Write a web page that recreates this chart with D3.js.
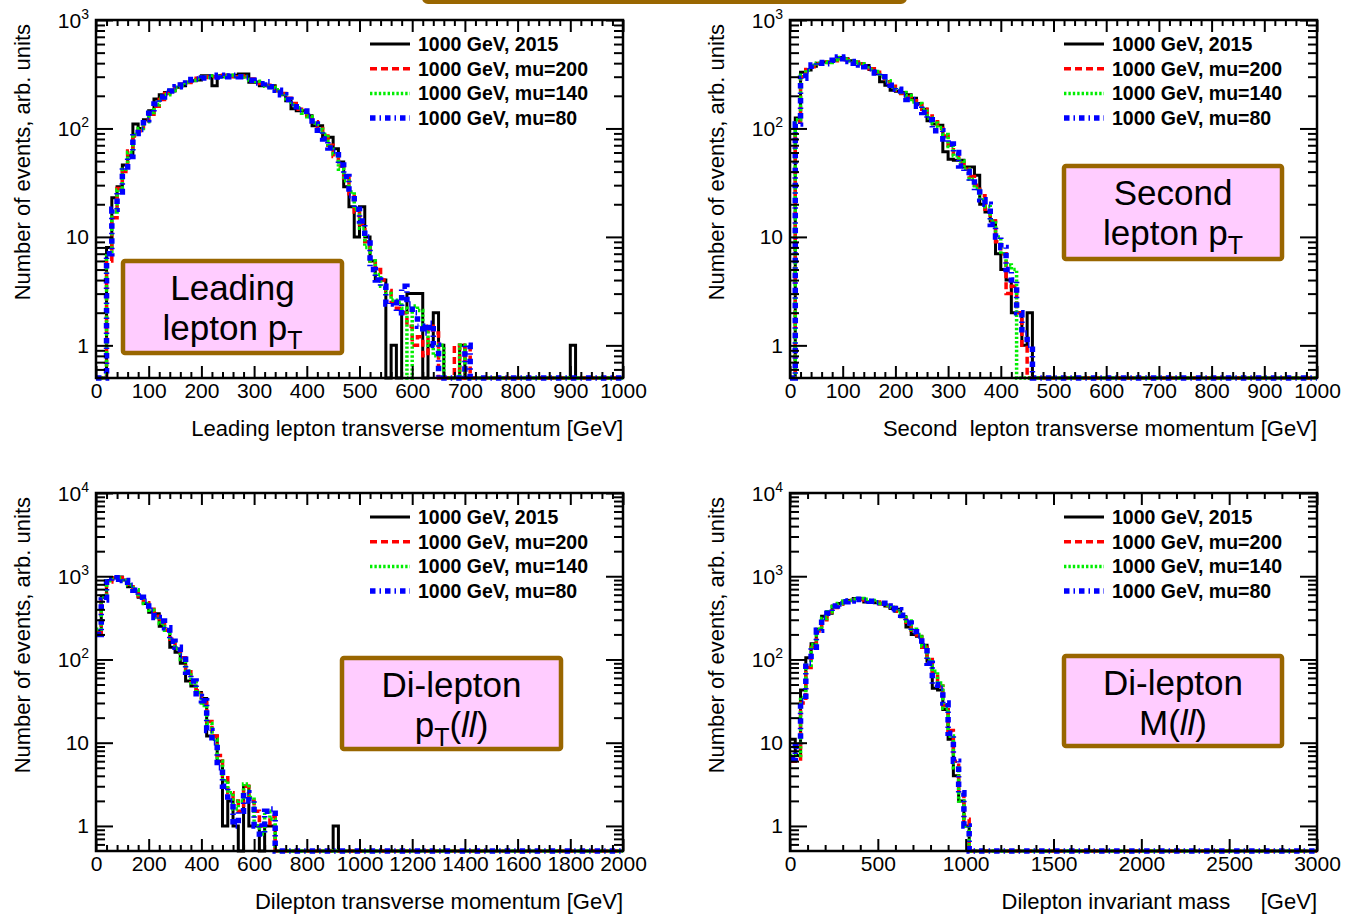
<!DOCTYPE html>
<html>
<head>
<meta charset="utf-8">
<script src="https://cdn.jsdelivr.net/npm/d3@7"></script>
<style>
  html, body { margin: 0; padding: 0; background: #ffffff; }
  svg { display: block; font-family: "Liberation Sans", Arial, Helvetica, sans-serif; }
</style>
</head>
<body>
<svg id="chart" width="1346" height="915"></svg>
<script>
// ---- Bin contents (100 bins per histogram) ----

// Leading lepton pT, 10 GeV bins, 0-1000 GeV
const leadPt2015 = [
  0, 0, 8, 23, 29, 46, 56, 110, 100, 120,
  146, 187, 205, 215, 222, 240, 247, 265, 275, 280,
  306, 306, 247, 306, 300, 306, 310, 318, 318, 266,
  266, 247, 247, 247, 222, 205, 180, 152, 146, 146,
  131, 106, 106, 83, 83, 65, 49, 29, 19, 10,
  19, 10, 6, 4, 4, 0, 1, 0, 2, 3,
  3, 3, 0, 1, 2, 1, 0, 0, 0, 1,
  0, 0, 0, 0, 0, 0, 0, 0, 0, 0,
  0, 0, 0, 0, 0, 0, 0, 0, 0, 0,
  1, 0, 0, 0, 0, 0, 0, 0, 0, 0
];
const leadPtMu200 = [
  0, 0, 6, 15, 28, 40, 62, 85, 95, 118,
  135, 160, 185, 210, 225, 240, 255, 265, 280, 290,
  295, 300, 300, 305, 310, 305, 300, 305, 300, 285,
  270, 260, 250, 240, 225, 210, 190, 170, 150, 140,
  125, 115, 100, 85, 70, 55, 45, 35, 25, 17,
  13, 9, 6, 5, 4, 3.2, 2.5, 2.2, 2, 1.5,
  1, 1.2, 0.8, 1.5, 1.3, 0, 0, 0, 1, 0,
  1, 0, 0, 0, 0, 0, 0, 0, 0, 0,
  0, 0, 0, 0, 0, 0, 0, 0, 0, 0,
  0, 0, 0, 0, 0, 0, 0, 0, 0, 0
];
const leadPtMu140 = [
  0, 0, 7, 17, 27, 42, 60, 88, 100, 115,
  140, 165, 190, 205, 225, 238, 250, 268, 278, 288,
  298, 295, 305, 300, 300, 310, 300, 298, 302, 280,
  272, 262, 245, 238, 228, 208, 188, 165, 155, 138,
  128, 112, 98, 88, 68, 58, 42, 33, 26, 18,
  12, 8, 6, 4.5, 3.5, 3, 2.6, 2.5, 2.2, 0,
  2.3, 2.1, 1.4, 1, 0.8, 1, 0, 0, 0, 1,
  0, 0, 0, 0, 0, 0, 0, 0, 0, 0,
  0, 0, 0, 0, 0, 0, 0, 0, 0, 0,
  0, 0, 0, 0, 0, 0, 0, 0, 0, 0
];
const leadPtMu80 = [
  0, 0, 7, 18, 26, 44, 55, 90, 98, 120,
  138, 168, 195, 210, 222, 242, 252, 262, 282, 285,
  292, 300, 298, 310, 305, 300, 310, 300, 295, 278,
  262, 258, 270, 242, 225, 205, 185, 170, 148, 145,
  130, 110, 96, 80, 66, 62, 46, 36, 24, 18,
  14, 10, 5, 4, 3.5, 2.4, 2.5, 2, 3.5, 2.4,
  2, 1.5, 1.3, 1.6, 1, 0, 0, 0, 0, 0,
  1, 0, 0, 0, 0, 0, 0, 0, 0, 0,
  0, 0, 0, 0, 0, 0, 0, 0, 0, 0,
  0, 0, 0, 0, 0, 0, 0, 0, 0, 0
];

// Second lepton pT, 10 GeV bins, 0-1000 GeV
const secPt2015 = [
  0, 125, 330, 345, 375, 400, 410, 405, 425, 450,
  440, 420, 410, 395, 380, 350, 320, 270, 250, 225,
  220, 215, 205, 190, 170, 150, 118, 110, 107, 61,
  52, 51, 51, 44, 44, 37, 20, 17, 14, 7,
  5, 4, 2, 2, 1, 2, 0, 0, 0, 0,
  0, 0, 0, 0, 0, 0, 0, 0, 0, 0,
  0, 0, 0, 0, 0, 0, 0, 0, 0, 0,
  0, 0, 0, 0, 0, 0, 0, 0, 0, 0,
  0, 0, 0, 0, 0, 0, 0, 0, 0, 0,
  0, 0, 0, 0, 0, 0, 0, 0, 0, 0
];
const secPtMu200 = [
  0, 115, 300, 350, 370, 395, 405, 410, 420, 440,
  430, 425, 405, 390, 375, 355, 330, 300, 270, 245,
  225, 210, 195, 180, 165, 150, 130, 115, 100, 85,
  70, 58, 48, 42, 36, 30, 24, 18, 14, 9,
  7, 3, 3.5, 2, 1, 0, 0, 0, 0, 0,
  0, 0, 0, 0, 0, 0, 0, 0, 0, 0,
  0, 0, 0, 0, 0, 0, 0, 0, 0, 0,
  0, 0, 0, 0, 0, 0, 0, 0, 0, 0,
  0, 0, 0, 0, 0, 0, 0, 0, 0, 0,
  0, 0, 0, 0, 0, 0, 0, 0, 0, 0
];
const secPtMu140 = [
  0, 120, 310, 345, 380, 400, 410, 405, 430, 450,
  435, 420, 410, 395, 375, 350, 335, 305, 275, 240,
  230, 215, 200, 175, 170, 150, 125, 112, 102, 88,
  68, 56, 50, 42, 34, 28, 22, 19, 14, 10,
  7, 5.5, 5, 0, 0, 0, 0, 0, 0, 0,
  0, 0, 0, 0, 0, 0, 0, 0, 0, 0,
  0, 0, 0, 0, 0, 0, 0, 0, 0, 0,
  0, 0, 0, 0, 0, 0, 0, 0, 0, 0,
  0, 0, 0, 0, 0, 0, 0, 0, 0, 0,
  0, 0, 0, 0, 0, 0, 0, 0, 0, 0
];
const secPtMu80 = [
  0, 110, 290, 340, 385, 405, 400, 395, 425, 455,
  440, 415, 400, 385, 370, 355, 325, 300, 265, 250,
  230, 205, 185, 185, 160, 140, 120, 95, 95, 80,
  72, 60, 45, 40, 32, 26, 22, 20, 13, 10,
  8, 5, 4, 2, 1.3, 1, 0, 0, 0, 0,
  0, 0, 0, 0, 0, 0, 0, 0, 0, 0,
  0, 0, 0, 0, 0, 0, 0, 0, 0, 0,
  0, 0, 0, 0, 0, 0, 0, 0, 0, 0,
  0, 0, 0, 0, 0, 0, 0, 0, 0, 0,
  0, 0, 0, 0, 0, 0, 0, 0, 0, 0
];

// Dilepton pT, 20 GeV bins, 0-2000 GeV
const dilepPt2015 = [
  220, 560, 890, 960, 980, 900, 750, 660, 560, 470,
  370, 355, 250, 225, 140, 122, 90, 55, 48, 40,
  34, 12, 12, 6, 1, 2, 1, 0, 3, 1,
  1, 0, 1, 1, 0, 0, 0, 0, 0, 0,
  0, 0, 0, 0, 0, 1, 0, 0, 0, 0,
  0, 0, 0, 0, 0, 0, 0, 0, 0, 0,
  0, 0, 0, 0, 0, 0, 0, 0, 0, 0,
  0, 0, 0, 0, 0, 0, 0, 0, 0, 0,
  0, 0, 0, 0, 0, 0, 0, 0, 0, 0,
  0, 0, 0, 0, 0, 0, 0, 0, 0, 0
];
const dilepPtMu200 = [
  210, 560, 850, 950, 960, 900, 800, 700, 580, 480,
  400, 330, 275, 225, 175, 140, 105, 75, 55, 42,
  30, 18, 12, 7, 4, 2.5, 2, 1.5, 3, 2,
  1.5, 1, 1, 1.3, 0, 0, 0, 0, 0, 0,
  0, 0, 0, 0, 0, 0, 0, 0, 0, 0,
  0, 0, 0, 0, 0, 0, 0, 0, 0, 0,
  0, 0, 0, 0, 0, 0, 0, 0, 0, 0,
  0, 0, 0, 0, 0, 0, 0, 0, 0, 0,
  0, 0, 0, 0, 0, 0, 0, 0, 0, 0,
  0, 0, 0, 0, 0, 0, 0, 0, 0, 0
];
const dilepPtMu140 = [
  230, 580, 880, 960, 950, 880, 790, 690, 570, 470,
  390, 320, 270, 225, 170, 135, 100, 72, 52, 40,
  28, 17, 11, 6, 3.5, 2.5, 1.6, 2, 3.2, 2.2,
  1, 0.8, 1.5, 1.2, 0, 0, 0, 0, 0, 0,
  0, 0, 0, 0, 0, 0, 0, 0, 0, 0,
  0, 0, 0, 0, 0, 0, 0, 0, 0, 0,
  0, 0, 0, 0, 0, 0, 0, 0, 0, 0,
  0, 0, 0, 0, 0, 0, 0, 0, 0, 0,
  0, 0, 0, 0, 0, 0, 0, 0, 0, 0,
  0, 0, 0, 0, 0, 0, 0, 0, 0, 0
];
const dilepPtMu80 = [
  200, 520, 850, 920, 960, 890, 780, 680, 560, 500,
  390, 320, 290, 240, 165, 140, 110, 70, 55, 36,
  32, 14, 10, 5, 3, 2, 1, 1.5, 2.5, 2,
  1, 0.8, 1.5, 1.6, 0, 0, 0, 0, 0, 0,
  0, 0, 0, 0, 0, 0, 0, 0, 0, 0,
  0, 0, 0, 0, 0, 0, 0, 0, 0, 0,
  0, 0, 0, 0, 0, 0, 0, 0, 0, 0,
  0, 0, 0, 0, 0, 0, 0, 0, 0, 0,
  0, 0, 0, 0, 0, 0, 0, 0, 0, 0,
  0, 0, 0, 0, 0, 0, 0, 0, 0, 0
];

// Dilepton invariant mass, 30 GeV bins, 0-3000 GeV
const mass2015 = [
  11, 7, 43, 105, 155, 230, 330, 360, 440, 470,
  500, 510, 540, 535, 490, 495, 480, 465, 440, 410,
  400, 325, 245, 200, 190, 148, 95, 45, 43, 25,
  11, 4, 2, 1, 0, 0, 0, 0, 0, 0,
  0, 0, 0, 0, 0, 0, 0, 0, 0, 0,
  0, 0, 0, 0, 0, 0, 0, 0, 0, 0,
  0, 0, 0, 0, 0, 0, 0, 0, 0, 0,
  0, 0, 0, 0, 0, 0, 0, 0, 0, 0,
  0, 0, 0, 0, 0, 0, 0, 0, 0, 0,
  0, 0, 0, 0, 0, 0, 0, 0, 0, 0
];
const massMu200 = [
  6, 6, 30, 80, 140, 220, 300, 370, 420, 460,
  490, 510, 520, 530, 520, 505, 490, 470, 445, 420,
  380, 330, 280, 225, 185, 140, 100, 70, 48, 28,
  14, 6, 2.5, 1.2, 0, 0, 0, 0, 0, 0,
  0, 0, 0, 0, 0, 0, 0, 0, 0, 0,
  0, 0, 0, 0, 0, 0, 0, 0, 0, 0,
  0, 0, 0, 0, 0, 0, 0, 0, 0, 0,
  0, 0, 0, 0, 0, 0, 0, 0, 0, 0,
  0, 0, 0, 0, 0, 0, 0, 0, 0, 0,
  0, 0, 0, 0, 0, 0, 0, 0, 0, 0
];
const massMu140 = [
  7, 7, 35, 85, 150, 230, 310, 375, 430, 470,
  500, 515, 530, 540, 530, 510, 495, 475, 450, 425,
  385, 335, 290, 230, 200, 145, 100, 72, 52, 26,
  12, 5, 2, 1, 0, 0, 0, 0, 0, 0,
  0, 0, 0, 0, 0, 0, 0, 0, 0, 0,
  0, 0, 0, 0, 0, 0, 0, 0, 0, 0,
  0, 0, 0, 0, 0, 0, 0, 0, 0, 0,
  0, 0, 0, 0, 0, 0, 0, 0, 0, 0,
  0, 0, 0, 0, 0, 0, 0, 0, 0, 0,
  0, 0, 0, 0, 0, 0, 0, 0, 0, 0
];
const massMu80 = [
  6.5, 9, 32, 90, 140, 225, 320, 360, 440, 465,
  495, 505, 525, 530, 515, 500, 480, 475, 440, 410,
  395, 340, 275, 215, 190, 145, 90, 50, 45, 30,
  13, 6, 2.5, 1, 0, 0, 0, 0, 0, 0,
  0, 0, 0, 0, 0, 0, 0, 0, 0, 0,
  0, 0, 0, 0, 0, 0, 0, 0, 0, 0,
  0, 0, 0, 0, 0, 0, 0, 0, 0, 0,
  0, 0, 0, 0, 0, 0, 0, 0, 0, 0,
  0, 0, 0, 0, 0, 0, 0, 0, 0, 0,
  0, 0, 0, 0, 0, 0, 0, 0, 0, 0
];

// ---- Axis tick labels ----
const ptTicks = [0, 100, 200, 300, 400, 500, 600, 700, 800, 900, 1000];
const dilepTicks = [0, 200, 400, 600, 800, 1000, 1200, 1400, 1600, 1800, 2000];
const massTicks = [0, 500, 1000, 1500, 2000, 2500, 3000];
const topDecades = [1, 10, 100, 1000];
const bottomDecades = [1, 10, 100, 1000, 10000];

const legendLabels = ["1000 GeV, 2015", "1000 GeV, mu=200", "1000 GeV, mu=140", "1000 GeV, mu=80"];
const yTitle = "Number of events, arb. units";

// ---- Line styles for the four samples ----
const styles = [
  { color: "#000000", width: 3,   dash: null },
  { color: "#ff0000", width: 3.5, dash: "7,4" },
  { color: "#00ee00", width: 3.5, dash: "2.4,2" },
  { color: "#0000ff", width: 5.5, dash: "5.5,4,1.5,4" }
];

const BROWN = "#996600";
const PINK = "#ffccff";

const panels = [
  {
    x0: 96, x1: 623, y0: 20, y1: 378, xMax: 1000, binW: 10, yDom: [0.5, 1000],
    decades: topDecades, xTicks: ptTicks, minorStep: 20,
    series: [leadPt2015, leadPtMu200, leadPtMu140, leadPtMu80],
    xTitle: "Leading lepton transverse momentum [GeV]",
    legX: 370, legY: 44,
    box: { x: 121, y: 259, w: 223, h: 96, lines: [
      [{ t: "Leading" }],
      [{ t: "lepton p" }, { t: "T", sub: true }]
    ] }
  },
  {
    x0: 790, x1: 1317, y0: 20, y1: 378, xMax: 1000, binW: 10, yDom: [0.5, 1000],
    decades: topDecades, xTicks: ptTicks, minorStep: 20,
    series: [secPt2015, secPtMu200, secPtMu140, secPtMu80],
    xTitle: "Second  lepton transverse momentum [GeV]",
    legX: 1064, legY: 44,
    box: { x: 1062, y: 164, w: 222, h: 97, lines: [
      [{ t: "Second" }],
      [{ t: "lepton p" }, { t: "T", sub: true }]
    ] }
  },
  {
    x0: 96, x1: 623, y0: 493, y1: 851, xMax: 2000, binW: 20, yDom: [0.5, 10000],
    decades: bottomDecades, xTicks: dilepTicks, minorStep: 40,
    series: [dilepPt2015, dilepPtMu200, dilepPtMu140, dilepPtMu80],
    xTitle: "Dilepton transverse momentum [GeV]",
    legX: 370, legY: 517,
    box: { x: 340, y: 656, w: 223, h: 95, lines: [
      [{ t: "Di-lepton" }],
      [{ t: "p" }, { t: "T", sub: true }, { t: "(" }, { t: "ll", it: true }, { t: ")" }]
    ] }
  },
  {
    x0: 790, x1: 1317, y0: 493, y1: 851, xMax: 3000, binW: 30, yDom: [0.5, 10000],
    decades: bottomDecades, xTicks: massTicks, minorStep: 100,
    series: [mass2015, massMu200, massMu140, massMu80],
    xTitle: "Dilepton invariant mass     [GeV]",
    legX: 1064, legY: 517,
    box: { x: 1062, y: 654, w: 222, h: 94, lines: [
      [{ t: "Di-lepton" }],
      [{ t: "M(" }, { t: "ll", it: true }, { t: ")" }]
    ] }
  }
];

const svg = d3.select("#chart");

// Lower edge of the heading box that sits above the page
svg.append("rect")
  .attr("x", 424).attr("y", -30).attr("width", 481).attr("height", 32)
  .attr("rx", 4)
  .attr("fill", "#ffffcc").attr("stroke", BROWN).attr("stroke-width", 4);

function styleAxis(g, fontSize) {
  g.attr("font-family", null).attr("font-size", fontSize)
   .attr("stroke-width", 2);
  g.select(".domain").remove();
  g.selectAll(".tick line").attr("stroke", "#000").attr("stroke-width", 2);
  g.selectAll(".tick text").attr("fill", "#000");
}

panels.forEach(p => {
  const g = svg.append("g");
  const x = d3.scaleLinear().domain([0, p.xMax]).range([p.x0, p.x1]);
  const y = d3.scaleLog().domain(p.yDom).range([p.y1, p.y0]).clamp(true);
  const yMin = p.yDom[0];

  // minor tick positions
  const xMinor = d3.range(0, p.xMax + 1e-9, p.minorStep).filter(v => !p.xTicks.includes(v));
  const yMinor = [];
  for (let e = -1; e < Math.log10(p.yDom[1]); e++) {
    for (let m = 2; m <= 9; m++) {
      const v = m * Math.pow(10, e);
      if (v > yMin && v < p.yDom[1]) yMinor.push(v);
    }
  }

  // histograms
  p.series.forEach((vals, si) => {
    const pts = vals.map((v, i) => [i * p.binW, v]);
    pts.push([vals.length * p.binW, vals[vals.length - 1]]);
    const line = d3.line()
      .x(d => x(d[0]))
      .y(d => y(d[1] > 0 ? d[1] : yMin))
      .curve(d3.curveStepAfter);
    const st = styles[si];
    g.append("path")
      .attr("d", line(pts))
      .attr("fill", "none")
      .attr("stroke", st.color)
      .attr("stroke-width", st.width)
      .attr("stroke-dasharray", st.dash)
      .attr("stroke-linejoin", "miter");
  });

  // axes: bottom (labelled), top, left (labelled), right
  const xb = g.append("g").attr("transform", `translate(0,${p.y1})`)
    .call(d3.axisBottom(x).tickValues(p.xTicks).tickSizeInner(-12).tickSizeOuter(0)
      .tickPadding(5).tickFormat(d3.format("d")));
  styleAxis(xb, 21);
  const xbm = g.append("g").attr("transform", `translate(0,${p.y1})`)
    .call(d3.axisBottom(x).tickValues(xMinor).tickSizeInner(-6).tickSizeOuter(0).tickFormat(""));
  styleAxis(xbm, 21);
  const xt = g.append("g").attr("transform", `translate(0,${p.y0})`)
    .call(d3.axisTop(x).tickValues(p.xTicks).tickSizeInner(-12).tickSizeOuter(0).tickFormat(""));
  styleAxis(xt, 21);
  const xtm = g.append("g").attr("transform", `translate(0,${p.y0})`)
    .call(d3.axisTop(x).tickValues(xMinor).tickSizeInner(-6).tickSizeOuter(0).tickFormat(""));
  styleAxis(xtm, 21);

  const yl = g.append("g").attr("transform", `translate(${p.x0},0)`)
    .call(d3.axisLeft(y).tickValues(p.decades).tickSizeInner(-17).tickSizeOuter(0)
      .tickPadding(7).tickFormat(""));
  styleAxis(yl, 21);
  yl.selectAll(".tick text").each(function (d) {
    const t = d3.select(this).attr("dy", null).attr("dominant-baseline", null);
    const e = Math.round(Math.log10(d));
    t.attr("y", 7);
    if (e === 0) t.text("1");
    else if (e === 1) t.text("10");
    else {
      t.append("tspan").text("10");
      t.append("tspan").attr("dy", -9).attr("font-size", 14).text(String(e));
    }
  });
  const ylm = g.append("g").attr("transform", `translate(${p.x0},0)`)
    .call(d3.axisLeft(y).tickValues(yMinor).tickSizeInner(-9).tickSizeOuter(0).tickFormat(""));
  styleAxis(ylm, 21);
  const yr = g.append("g").attr("transform", `translate(${p.x1},0)`)
    .call(d3.axisRight(y).tickValues(p.decades).tickSizeInner(-17).tickSizeOuter(0).tickFormat(""));
  styleAxis(yr, 21);
  const yrm = g.append("g").attr("transform", `translate(${p.x1},0)`)
    .call(d3.axisRight(y).tickValues(yMinor).tickSizeInner(-9).tickSizeOuter(0).tickFormat(""));
  styleAxis(yrm, 21);

  // frame
  g.append("rect")
    .attr("x", p.x0).attr("y", p.y0)
    .attr("width", p.x1 - p.x0).attr("height", p.y1 - p.y0)
    .attr("fill", "none").attr("stroke", "#000").attr("stroke-width", 2.5);

  // axis titles
  g.append("text")
    .attr("x", p.x1).attr("y", p.y1 + 58)
    .attr("text-anchor", "end")
    .attr("font-size", 22)
    .style("white-space", "pre")
    .text(p.xTitle);
  g.append("text")
    .attr("transform", `translate(${p.x0 - 66},${p.y0 + 4}) rotate(-90)`)
    .attr("text-anchor", "end")
    .attr("font-size", 22)
    .text(yTitle);

  // legend
  legendLabels.forEach((lab, i) => {
    const cy = p.legY + i * 24.7;
    const st = styles[i];
    g.append("line")
      .attr("x1", p.legX).attr("x2", p.legX + 40)
      .attr("y1", cy).attr("y2", cy)
      .attr("stroke", st.color).attr("stroke-width", st.width)
      .attr("stroke-dasharray", st.dash);
    g.append("text")
      .attr("x", p.legX + 48).attr("y", cy + 7)
      .attr("font-size", 19.5).attr("font-weight", "bold")
      .text(lab);
  });

  // caption box
  const b = p.box;
  g.append("rect")
    .attr("x", b.x + 2).attr("y", b.y + 2)
    .attr("width", b.w - 4).attr("height", b.h - 4)
    .attr("rx", 2)
    .attr("fill", PINK).attr("stroke", BROWN).attr("stroke-width", 4.5);
  b.lines.forEach((segs, li) => {
    const t = g.append("text")
      .attr("x", b.x + b.w / 2)
      .attr("y", b.y + 41 + li * 40)
      .attr("text-anchor", "middle")
      .attr("font-size", 35);
    let shifted = false;
    segs.forEach(s => {
      const ts = t.append("tspan").text(s.t);
      if (s.sub) { ts.attr("dy", 9).attr("font-size", 25); shifted = true; }
      else if (shifted) { ts.attr("dy", -9); shifted = false; }
      if (s.it) ts.attr("font-style", "italic");
    });
  });
});
</script>
</body>
</html>
